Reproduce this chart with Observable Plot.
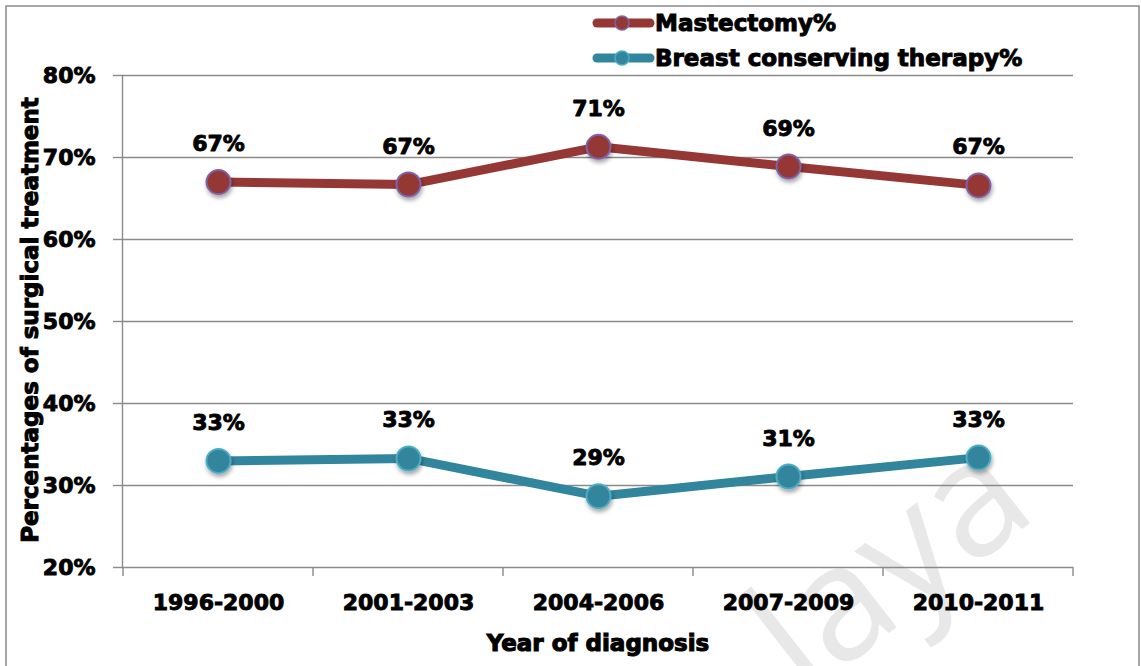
<!DOCTYPE html>
<html>
<head>
<meta charset="utf-8">
<script src="https://cdn.jsdelivr.net/npm/d3@7"></script>
<script src="https://cdn.jsdelivr.net/npm/@observablehq/plot@0.6"></script>
<style>
  html, body { margin: 0; padding: 0; background: #fff; }
  #chart svg { display: block; }
</style>
</head>
<body>
<div id="chart"></div>
<script>
// Surgical treatment share by period of diagnosis
const periods = ["1996-2000", "2001-2003", "2004-2006", "2007-2009", "2010-2011"];
const mastectomy = [67.0, 66.7, 71.3, 68.9, 66.6];
const breastConserving = [33.0, 33.3, 28.7, 31.1, 33.4];
const yTicks = [20, 30, 40, 50, 60, 70, 80];
const seriesNames = ["Mastectomy%", "Breast conserving therapy%"];
const lineColors = ["#953735", "#31859C"];
const markerEdges = ["#7E63A6", "#4BACC6"];

const rows = [];
[mastectomy, breastConserving].forEach((vals, s) =>
  vals.forEach((v, i) => rows.push({series: seriesNames[s], period: periods[i], value: v}))
);

const FONT = "'DejaVu Sans', 'Liberation Sans', Arial, sans-serif";
const W = 1141, H = 666;
const HEAVY = {stroke: "#000", strokeWidth: 0.9};

const chart = Plot.plot({
  width: W,
  height: H,
  marginLeft: 122,
  marginRight: 68,
  marginTop: 75,
  marginBottom: 99,
  style: {fontFamily: FONT, fontWeight: "bold", fontSize: "22px", color: "#000", background: "#fff", overflow: "visible"},
  x: {type: "point", domain: periods, padding: 0.5, label: null},
  y: {domain: [20, 80], label: null},
  color: {domain: seriesNames, range: lineColors},
  marks: [
    Plot.gridY(yTicks, {stroke: "#8a8a8a", strokeOpacity: 1, strokeWidth: 1.4}),
    Plot.axisY(yTicks, {tickSize: 9, tickPadding: 18, stroke: "#8a8a8a", strokeWidth: 1.4, tickFormat: d => d + "%", fontSize: 22, fill: "#000"}),
    Plot.axisX({tickSize: 0, tickPadding: 27, fontSize: 22, fill: "#000"}),
    Plot.frame({anchor: "left", stroke: "#8a8a8a", strokeWidth: 1.4}),
    Plot.line(rows, {x: "period", y: "value", z: "series", stroke: "series", strokeWidth: 9}),
    ...seriesNames.map((name, s) =>
      Plot.dot(rows.filter(d => d.series === name), {
        x: "period", y: "value", r: 12, fill: lineColors[s], stroke: markerEdges[s], strokeWidth: 2
      })
    ),
    Plot.text(rows, {x: "period", y: "value", text: d => Math.round(d.value) + "%", dy: -38, fontSize: 22, fontWeight: "bold", fill: "#000", ...HEAVY})
  ]
});

document.getElementById("chart").append(chart);

const svg = d3.select(chart);
const xs = chart.scale("x");

// thicken the axis tick labels a little
svg.selectAll("g[aria-label='x-axis tick label'] text, g[aria-label='y-axis tick label'] text")
  .attr("stroke", "#000").attr("stroke-width", 0.9);

// soft shadow under markers
const defs = svg.insert("defs", ":first-child");
const f = defs.append("filter").attr("id", "markShadow").attr("x", "-50%").attr("y", "-50%").attr("width", "200%").attr("height", "200%");
f.append("feDropShadow").attr("dx", 1).attr("dy", 3).attr("stdDeviation", 2).attr("flood-color", "#000").attr("flood-opacity", 0.35);
svg.selectAll("g[aria-label='dot']").attr("filter", "url(#markShadow)");

// faint watermark behind everything
svg.insert("text", "defs + *")
  .attr("transform", "translate(1040,515) rotate(-38)")
  .attr("text-anchor", "end")
  .attr("font-family", "'Open Sans', 'Noto Sans', sans-serif")
  .attr("font-weight", 400)
  .attr("font-size", 160)
  .attr("fill", "#e8e8e8")
  .text("laya");

// outer frame
svg.append("rect")
  .attr("x", 6).attr("y", 6).attr("width", W - 8).attr("height", H + 20)
  .attr("fill", "none").attr("stroke", "#8a8a8a").attr("stroke-width", 1.5);

// category boundary ticks on the x axis
const pts = periods.map(p => xs.apply(p));
const step = pts[1] - pts[0];
const bounds = [pts[0] - step / 2, ...pts.map(p => p + step / 2)];
const yBase = chart.scale("y").apply(20);
svg.append("g").selectAll("line").data(bounds).join("line")
  .attr("x1", d => d).attr("x2", d => d)
  .attr("y1", yBase).attr("y2", yBase + 9)
  .attr("stroke", "#8a8a8a").attr("stroke-width", 1.4);

// axis titles
svg.append("text")
  .attr("x", (pts[0] + pts[4]) / 2).attr("y", 651)
  .attr("text-anchor", "middle")
  .attr("font-family", FONT).attr("font-weight", "bold").attr("font-size", 23)
  .attr("stroke", "#000").attr("stroke-width", 1.1)
  .text("Year of diagnosis");

svg.append("text")
  .attr("transform", `translate(38,${(75 + yBase) / 2 - 1}) rotate(-90)`)
  .attr("text-anchor", "middle")
  .attr("font-family", FONT).attr("font-weight", "bold").attr("font-size", 23)
  .attr("stroke", "#000").attr("stroke-width", 1.0)
  .text("Percentages of surgical treatment");

// legend
const legend = svg.append("g");
seriesNames.forEach((name, s) => {
  const cy = s === 0 ? 23 : 58;
  const g = legend.append("g");
  g.append("line").attr("x1", 597).attr("x2", 650).attr("y1", cy).attr("y2", cy)
    .attr("stroke", lineColors[s]).attr("stroke-width", 9).attr("stroke-linecap", "round");
  g.append("circle").attr("cx", 622).attr("cy", cy).attr("r", 7)
    .attr("fill", lineColors[s]).attr("stroke", markerEdges[s]).attr("stroke-width", 1.5);
  g.append("text").attr("x", 655).attr("y", cy + 8)
    .attr("text-anchor", "start")
    .attr("font-family", FONT).attr("font-weight", "bold").attr("font-size", 23)
    .attr("stroke", "#000").attr("stroke-width", 1.0)
    .text(name);
});
</script>
</body>
</html>
